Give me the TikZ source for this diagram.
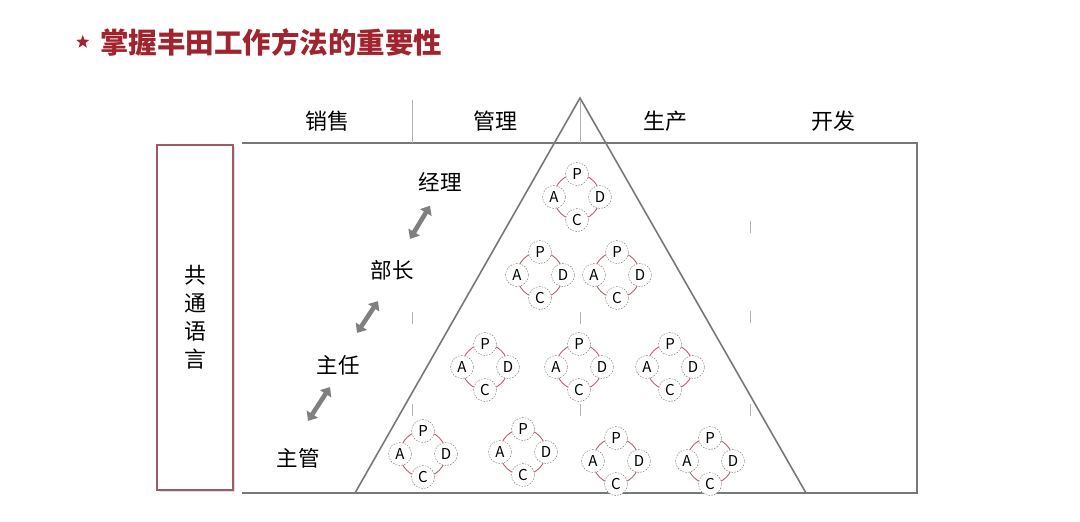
\documentclass[tikz,border=0pt]{standalone}
\usepackage{fontspec}
\setmainfont{Noto Sans CJK SC}
\usetikzlibrary{arrows.meta,positioning,shapes.geometric,shadows}
\definecolor{titlered}{RGB}{160,35,45}
\definecolor{boxred}{RGB}{160,90,100}
\definecolor{cycred}{RGB}{185,95,105}
\definecolor{rimgray}{RGB}{120,120,120}

\begin{document}
\begin{tikzpicture}[x=1pt,y=-1pt,>=Stealth]
\tikzset{
  rim/.style={draw=rimgray, line width=1.6pt},
  gapline/.style={draw=black!30, line width=0.8pt},
  dept/.style={font=\fontsize{22}{24}\selectfont, inner sep=0pt},
  rank/.style={font=\fontsize{21.5}{24}\selectfont, inner sep=1pt},
  stage/.style={circle, draw=black!55, dash pattern=on 1.6pt off 1.3pt, fill=white,
                minimum size=23pt, inner sep=0pt, font=\fontsize{15}{16}\selectfont},
  cyc/.style={draw=cycred, line width=0.9pt},
  dbl/.style={{Triangle[length=8pt,width=13pt]}-{Triangle[length=8pt,width=13pt]},
              line width=4.6pt, draw=black!50}
}
\useasboundingbox (0,0) rectangle (1080,522);
% ---------- title ----------
\node[anchor=west, inner sep=0pt, text=titlered,
      font=\fontsize{28.5}{32}\selectfont\bfseries] (title) at (100,42) {掌握丰田工作方法的重要性};
\node[star, star points=5, star point ratio=2.4, fill=titlered, inner sep=0pt,
      minimum size=14pt, left=13pt of title] (bullet) {};
% ---------- frame and pyramid ----------
\draw[rim] (242,143) -- (917,143) -- (917,493) -- (242,493);
\draw[rim] (580,98) -- (355,493) -- (806,493) -- cycle;
\draw[gapline] (412,100) -- (412,143);
\draw[gapline] (580,100) -- (580,143);
\foreach \x/\y in {412/318, 412/410, 580/318, 580/410, 750/227, 750/317, 750/410}
  \draw[gapline] ({\x},{\y-6}) -- ({\x},{\y+6});
% ---------- departments ----------
\node[dept] (sales) at (327,121) {销售};
\node[dept] (mgmt) at (495,121) {管理};
\node[dept] (prod) at (665,121) {生产};
\node[dept] (dev) at (833,121) {开发};
% ---------- common language ----------
\node[draw=boxred, line width=1.3pt, fill=white, minimum width=76pt, minimum height=345pt,
      align=center, font=\fontsize{22}{28}\selectfont,
      drop shadow={shadow xshift=1.5pt, shadow yshift=-1.5pt, fill=black!25}] (lang) at (195,317.5)
      {共\\通\\语\\言};
% ---------- ranks ----------
\node[rank] (jingli) at (440,182) {经理};
\node[rank] (buzhang) at (392,270) {部长};
\node[rank] (zhuren) at (338,365) {主任};
\node[rank] (zhuguan) at (298,458) {主管};
\draw[dbl] ([xshift=-10pt,yshift=-13pt]jingli.south) -- ([xshift=18pt,yshift=20pt]buzhang.north);
\draw[dbl] ([xshift=-14pt,yshift=-20pt]buzhang.south) -- ([xshift=19pt,yshift=21pt]zhuren.north);
\draw[dbl] ([xshift=-8pt,yshift=-11pt]zhuren.south) -- ([xshift=10pt,yshift=26pt]zhuguan.north);
% ---------- PDCA cycles ----------
\foreach \n/\x/\y in {r1a/577/197, r2a/540/275, r2b/617/275,
                      r3a/485/367, r3b/579/367, r3c/670/367,
                      r4a/423/454, r4b/523/452, r4c/616/461, r4d/710/461} {
  \begin{scope}[shift={(\x,\y)}]
    \draw[cyc] (0,0) circle (23pt);
    \node[stage] (\n-p) at (0,-23) {P};
    \node[stage] (\n-d) at (23,0) {D};
    \node[stage] (\n-c) at (0,23) {C};
    \node[stage] (\n-a) at (-23,0) {A};
  \end{scope}
}
\end{tikzpicture}
\end{document}
